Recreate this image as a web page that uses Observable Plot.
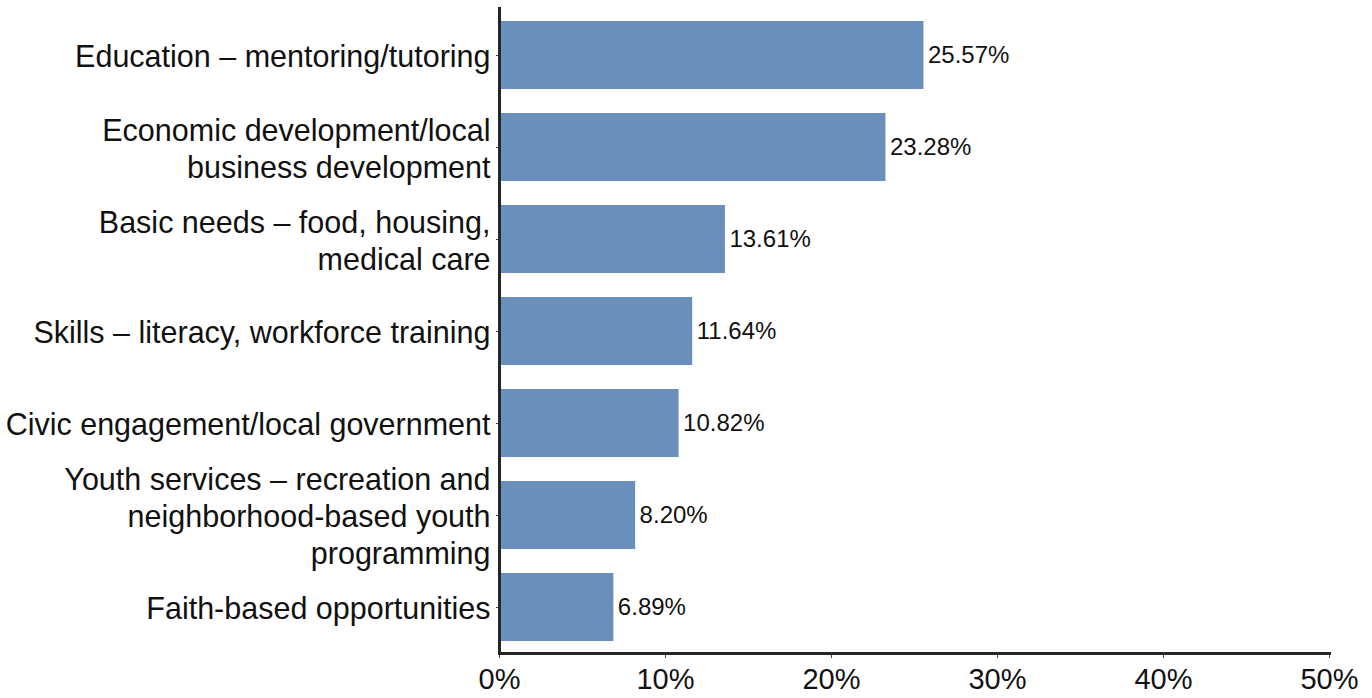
<!DOCTYPE html>
<html>
<head>
<meta charset="utf-8">
<script src="https://cdn.jsdelivr.net/npm/d3@7"></script>
<script src="https://cdn.jsdelivr.net/npm/@observablehq/plot@0.6"></script>
<style>
  html, body { margin: 0; padding: 0; background: #fff; }
  #chart svg { display: block; }
</style>
</head>
<body>
<div id="chart"></div>
<script>
const categories = [
  "Education – mentoring/tutoring",
  "Economic development/local\nbusiness development",
  "Basic needs – food, housing,\nmedical care",
  "Skills – literacy, workforce training",
  "Civic engagement/local government",
  "Youth services – recreation and\nneighborhood-based youth\nprogramming",
  "Faith-based opportunities"
];
const values = [25.57, 23.28, 13.61, 11.64, 10.82, 8.20, 6.89];
const xTicks = [0, 10, 20, 30, 40, 50];

const data = categories.map((c, i) => ({category: c, value: values[i]}));

const chart = Plot.plot({
  width: 1372,
  height: 698,
  marginLeft: 499,
  marginRight: 43,
  marginTop: 8,
  marginBottom: 45,
  style: {fontFamily: "'Liberation Sans', Arial, sans-serif", color: "#111", background: "#fff"},
  x: {domain: [0, 50], ticks: xTicks, label: null},
  y: {domain: categories, paddingInner: 0.265, paddingOuter: 0.13, label: null},
  marks: [
    Plot.barX(data, {x: "value", y: "category", fill: "#6a8fbb"}),
    Plot.text(data, {
      x: "value", y: "category",
      text: d => d.value.toFixed(2) + "%",
      textAnchor: "start", dx: 4, fontSize: 24, fill: "#111"
    }),
    Plot.axisX({
      ticks: xTicks, tickFormat: d => d + "%", tickSize: 5, tickPadding: 10,
      fontSize: 29, stroke: "#444", fill: "#111", label: null
    }),
    Plot.axisY({
      tickSize: 3, tickPadding: 6, fontSize: 30.5, lineHeight: 1.21,
      fill: "#111", stroke: "#444", label: null
    }),
    Plot.frame({anchor: "bottom", stroke: "#262626", strokeWidth: 3}),
    Plot.frame({anchor: "left", stroke: "#262626", strokeWidth: 3})
  ]
});
document.getElementById("chart").appendChild(chart);
</script>
</body>
</html>
